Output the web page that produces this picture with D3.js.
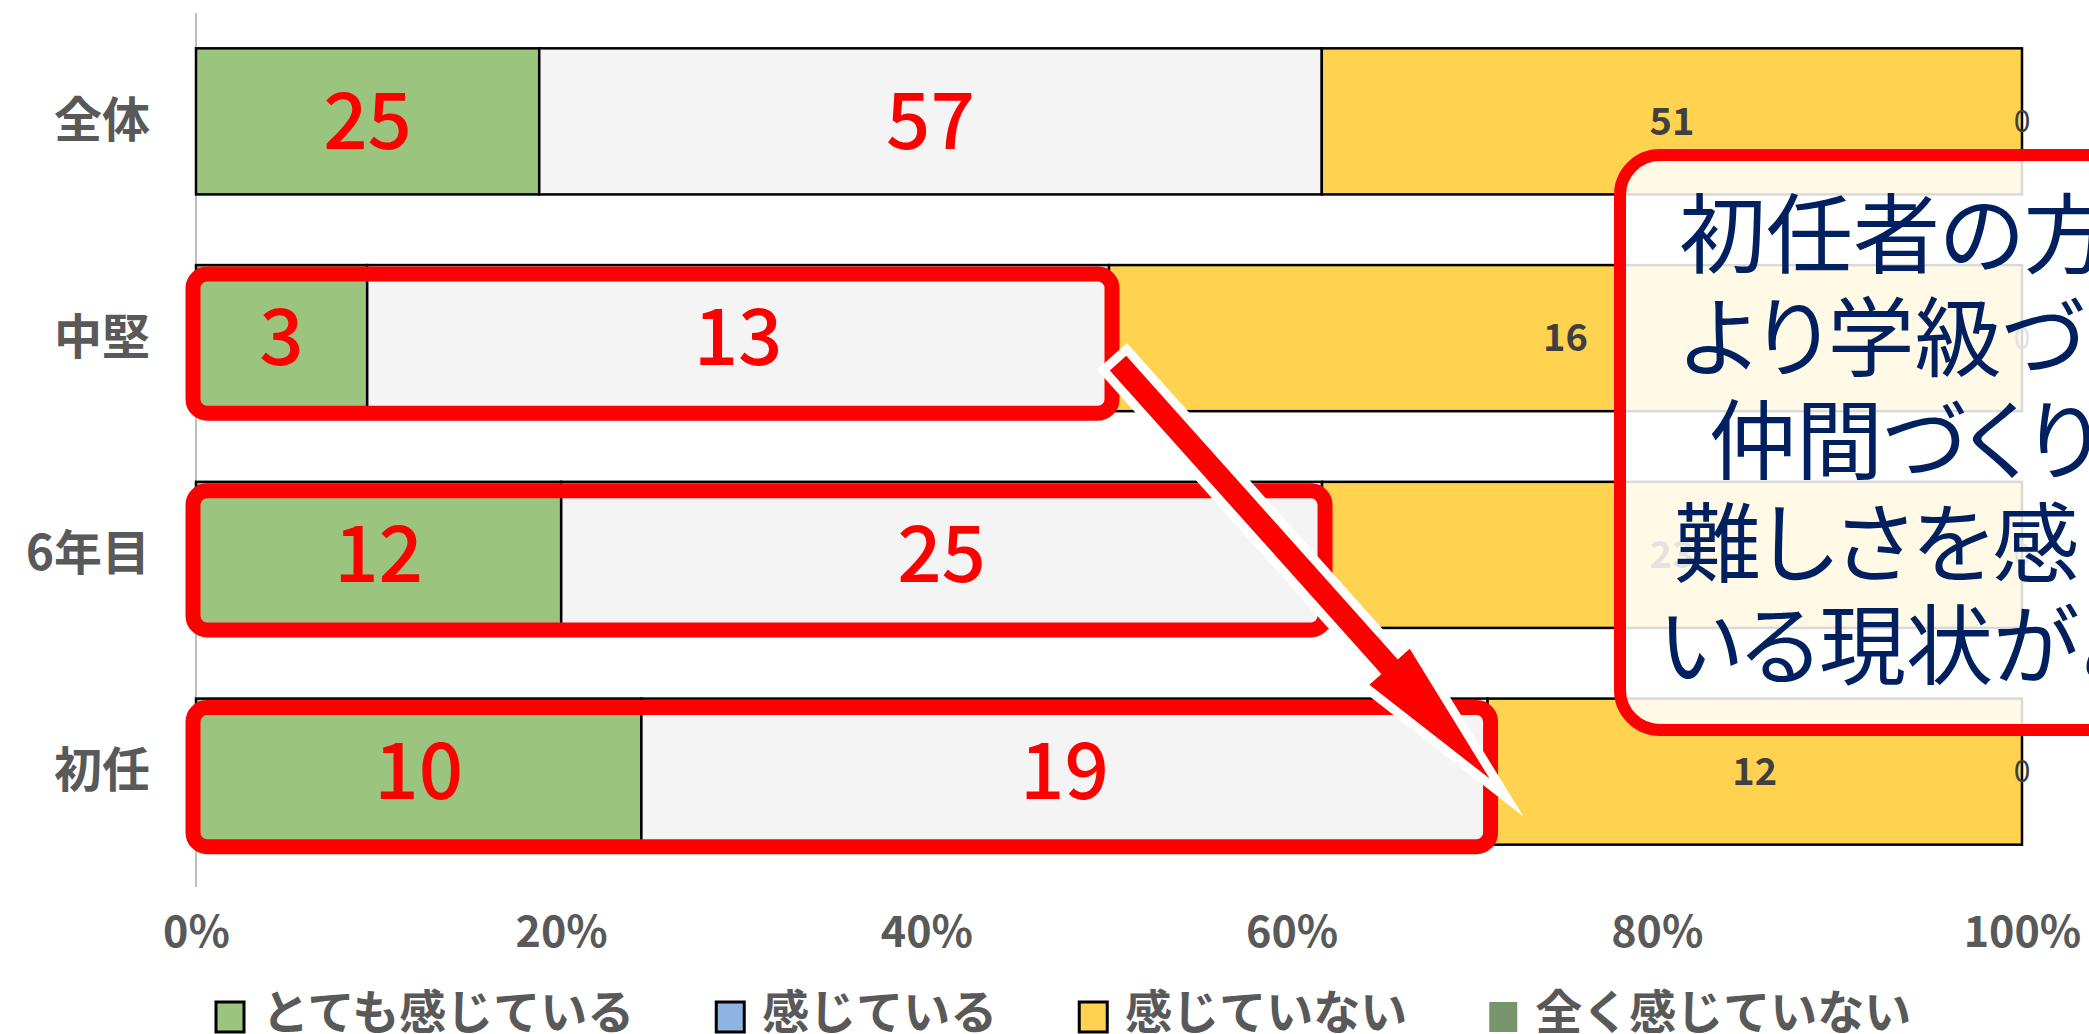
<!DOCTYPE html>
<html>
  <head>
    <meta charset="utf-8" />
    <title>学級づくり・仲間づくりの難しさ</title>
    <script src="https://d3js.org/d3.v7.min.js"></script>
    <style>
      body {
        margin: 0;
        background-color: #ffffff;
      }
      svg text {
        font-family: "Noto Sans CJK JP", "Noto Sans", sans-serif;
      }
      .callout-text {
        font-feature-settings: "palt";
      }
    </style>
  </head>
  <body>
    <svg id="chart"></svg>

    <script>
      // data
      var categories = ["全体", "中堅", "6年目", "初任"];
      var seriesNames = ["とても感じている", "感じている", "感じていない", "全く感じていない"];
      var veryMuch = [25, 3, 12, 10];
      var somewhat = [57, 13, 25, 19];
      var notReally = [51, 16, 23, 12];
      var notAtAll = [0, 0, 0, 0];
      var xTicks = [0, 0.2, 0.4, 0.6, 0.8, 1];
      var highlighted = ["中堅", "6年目", "初任"];
      var calloutLines = ["初任者の方が", "より学級づくり・", "仲間づくりに", "難しさを感じて", "いる現状がある"];

      var width = 2089;
      var height = 1034;

      var barFill = ["#9BC47E", "#F4F4F4", "#FFD350", "#7A9A6A"];
      var legendFill = ["#9BC47E", "#8DB4E2", "#FFD350", "#77956A"];

      var svg = d3.select("#chart")
        .attr("width", width)
        .attr("height", height);

      var rows = categories.map(function(c, i) {
        return {
          category: c,
          s0: veryMuch[i],
          s1: somewhat[i],
          s2: notReally[i],
          s3: notAtAll[i]
        };
      });
      var keys = ["s0", "s1", "s2", "s3"];

      var stacked = d3.stack()
        .keys(keys)
        .offset(d3.stackOffsetExpand)(rows);

      var x = d3.scaleLinear()
        .domain([0, 1])
        .range([196, 2022]);

      var y = d3.scaleBand()
        .domain(categories)
        .range([13, 880])
        .paddingInner(0.326)
        .paddingOuter(0.163);

      // left axis line + category labels
      var yAxis = d3.axisLeft(y).tickSize(0).tickPadding(46);
      var gy = svg.append("g")
        .attr("transform", "translate(" + x(0) + ",0)")
        .call(yAxis);
      gy.select(".domain").remove();
      gy.selectAll("text")
        .attr("font-size", "48px")
        .attr("font-weight", "bold")
        .attr("fill", "#595959")
        .style("font-family", "'Noto Sans CJK JP', sans-serif");

      svg.append("line")
        .attr("x1", x(0)).attr("x2", x(0))
        .attr("y1", 13).attr("y2", 887)
        .attr("stroke", "#BFBFBF")
        .attr("stroke-width", 2);

      // bottom tick labels
      var xAxis = d3.axisBottom(x)
        .tickValues(xTicks)
        .tickFormat(d3.format(".0%"))
        .tickSize(0);
      var gx = svg.append("g")
        .attr("transform", "translate(0,880)")
        .call(xAxis);
      gx.select(".domain").remove();
      gx.selectAll("text")
        .attr("y", 52)
        .attr("dy", "0.35em")
        .attr("font-size", "43px")
        .attr("font-weight", "bold")
        .attr("fill", "#595959")
        .style("font-family", "'Noto Sans CJK JP', sans-serif");

      // bars
      var layers = svg.append("g").selectAll("g")
        .data(stacked)
        .enter().append("g")
        .attr("fill", function(d, i) { return barFill[i]; });

      layers.selectAll("rect")
        .data(function(d) { return d; })
        .enter().append("rect")
        .attr("x", function(d) { return x(d[0]); })
        .attr("y", function(d) { return y(d.data.category); })
        .attr("width", function(d) { return x(d[1]) - x(d[0]); })
        .attr("height", y.bandwidth())
        .attr("stroke", "#000000")
        .attr("stroke-width", 2.5);

      // value labels
      var labelStyle = [
        { size: 78, color: "#FF0000", weight: 500 },
        { size: 78, color: "#FF0000", weight: 500 },
        { size: 38, color: "#404040", weight: "bold" },
        { size: 30, color: "#404040", weight: "normal" }
      ];

      stacked.forEach(function(layer, i) {
        svg.append("g").selectAll("text")
          .data(layer)
          .enter().append("text")
          .attr("x", function(d) { return (x(d[0]) + x(d[1])) / 2; })
          .attr("y", function(d) { return y(d.data.category) + y.bandwidth() / 2; })
          .attr("dy", "0.35em")
          .attr("text-anchor", "middle")
          .attr("font-size", labelStyle[i].size + "px")
          .attr("font-weight", labelStyle[i].weight)
          .attr("fill", labelStyle[i].color)
          .text(function(d) { return d.data[keys[i]]; });
      });

      // red highlight boxes round the first two segments
      svg.append("g").selectAll("rect")
        .data(stacked[1].filter(function(d) { return highlighted.indexOf(d.data.category) >= 0; }))
        .enter().append("rect")
        .attr("x", x(0) - 3)
        .attr("y", function(d) { return y(d.data.category) + 9; })
        .attr("width", function(d) { return x(d[1]) - x(0) + 6; })
        .attr("height", y.bandwidth() - 7)
        .attr("rx", 14)
        .attr("fill", "none")
        .attr("stroke", "#FF0000")
        .attr("stroke-width", 15);

      // arrow from 中堅 down to 初任
      var midEnd = stacked[1][categories.indexOf("中堅")][1];
      var newEnd = stacked[1][categories.indexOf("初任")][1];
      var tail = [x(midEnd) + 9, y("中堅") + 98];
      var tip = [x(newEnd) + 2, y("初任") + 80];
      var dx = tip[0] - tail[0], dy = tip[1] - tail[1];
      var len = Math.sqrt(dx * dx + dy * dy);
      var u = [dx / len, dy / len];
      var n = [u[1], -u[0]];
      var shaftHalf = 11, headHalf = 27, headLen = 150;
      function pt(along, side) {
        return [tail[0] + u[0] * along + n[0] * side, tail[1] + u[1] * along + n[1] * side];
      }
      var arrowPts = [
        pt(0, -shaftHalf),
        pt(len - headLen, -shaftHalf),
        pt(len - headLen, -headHalf),
        pt(len, 0),
        pt(len - headLen, headHalf),
        pt(len - headLen, shaftHalf),
        pt(0, shaftHalf)
      ];
      svg.append("path")
        .attr("d", d3.line()(arrowPts) + "Z")
        .attr("fill", "#FF0000")
        .attr("stroke", "#FFFFFF")
        .attr("stroke-width", 18)
        .attr("stroke-linejoin", "miter")
        .attr("stroke-miterlimit", 10)
        .style("paint-order", "stroke");

      // callout
      var callout = svg.append("g");
      callout.append("rect")
        .attr("x", 1620)
        .attr("y", 155)
        .attr("width", 640)
        .attr("height", 575)
        .attr("rx", 40)
        .attr("fill", "#FFFFFF")
        .attr("fill-opacity", 0.85)
        .attr("stroke", "#FF0000")
        .attr("stroke-width", 12);

      var lineX = [1679, 1681, 1709, 1674, 1659];
      callout.selectAll("text")
        .data(calloutLines)
        .enter().append("text")
        .attr("class", "callout-text")
        .attr("x", function(d, i) { return lineX[i]; })
        .attr("y", function(d, i) { return 237 + i * 102.7; })
        .attr("dy", "0.35em")
        .attr("font-size", "87px")
        .attr("font-weight", "normal")
        .attr("fill", "#002060")
        .text(function(d) { return d; });

      // legend
      var legend = svg.append("g");
      var lx = 216;
      seriesNames.forEach(function(name, i) {
        legend.append("rect")
          .attr("x", lx)
          .attr("y", 1002)
          .attr("width", 28)
          .attr("height", 30)
          .attr("fill", legendFill[i])
          .attr("stroke", i < 3 ? "#000000" : "none")
          .attr("stroke-width", 3);
        var t = legend.append("text")
          .attr("x", lx + 46)
          .attr("y", 1013)
          .attr("dy", "0.35em")
          .attr("font-size", "47px")
          .attr("font-weight", "bold")
          .attr("fill", "#595959")
          .text(name);
        lx = lx + 46 + t.node().getComputedTextLength() + 82;
      });
    </script>
  </body>
</html>
